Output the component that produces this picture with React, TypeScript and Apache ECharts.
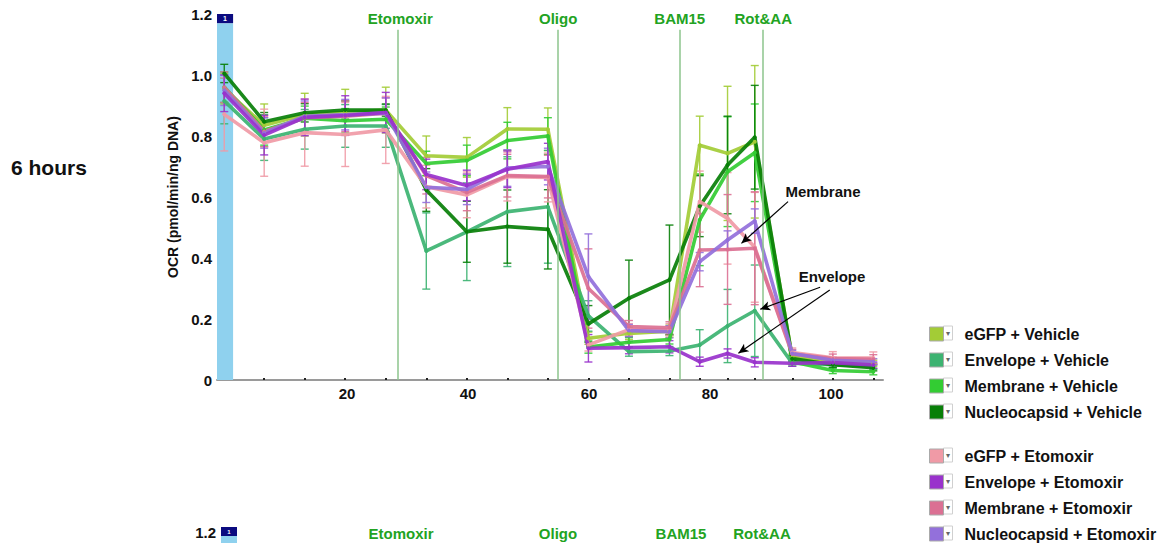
import React, { useEffect, useRef } from 'react';
import * as echarts from 'echarts';

// Measurement times (minutes)
const times = [-0.3, 6.3, 13.0, 19.7, 26.4, 33.1, 39.8, 46.5, 53.2, 59.9, 66.6, 73.3, 78.3, 82.9, 87.4, 93.6, 100.3, 107.0];
const xTickLabels = [20, 40, 60, 80, 100];

const seriesNames = [
  'eGFP + Vehicle', 'Envelope + Vehicle', 'Membrane + Vehicle', 'Nucleocapsid + Vehicle',
  'eGFP + Etomoxir', 'Envelope + Etomoxir', 'Membrane + Etomoxir', 'Nucleocapsid + Etomoxir',
];
const seriesColors = ['#a3cc36', '#3cb371', '#33cc33', '#087f08', '#f09aa6', '#9932cc', '#db7093', '#9370db'];

const eGFPVehicle = [0.955, 0.835, 0.870, 0.878, 0.885, 0.735, 0.730, 0.823, 0.822, 0.137, 0.153, 0.160, 0.770, 0.743, 0.781, 0.075, 0.060, 0.055];
const eGFPVehicleErr = [0.05, 0.07, 0.07, 0.075, 0.075, 0.065, 0.065, 0.07, 0.07, 0.02, 0.02, 0.02, 0.095, 0.22, 0.25, 0.01, 0.01, 0.01];
const envelopeVehicle = [0.915, 0.790, 0.822, 0.833, 0.833, 0.423, 0.486, 0.552, 0.568, 0.210, 0.093, 0.095, 0.115, 0.177, 0.227, 0.055, 0.050, 0.045];
const envelopeVehicleErr = [0.075, 0.07, 0.065, 0.07, 0.07, 0.125, 0.16, 0.18, 0.185, 0.05, 0.015, 0.015, 0.05, 0.12, 0.15, 0.01, 0.01, 0.01];
const membraneVehicle = [0.960, 0.820, 0.858, 0.850, 0.855, 0.710, 0.720, 0.785, 0.800, 0.108, 0.124, 0.133, 0.525, 0.683, 0.745, 0.060, 0.031, 0.027];
const membraneVehicleErr = [0.05, 0.05, 0.04, 0.04, 0.04, 0.04, 0.05, 0.06, 0.06, 0.02, 0.015, 0.015, 0.15, 0.18, 0.16, 0.01, 0.01, 0.01];
const nucleoVehicle = [1.005, 0.847, 0.876, 0.885, 0.885, 0.623, 0.486, 0.503, 0.494, 0.184, 0.268, 0.328, 0.570, 0.705, 0.796, 0.070, 0.050, 0.040];
const nucleoVehicleErr = [0.03, 0.03, 0.03, 0.03, 0.02, 0.07, 0.10, 0.12, 0.13, 0.06, 0.125, 0.18, 0.10, 0.16, 0.17, 0.01, 0.01, 0.01];
const eGFPEtomoxir = [0.871, 0.778, 0.811, 0.805, 0.820, 0.634, 0.607, 0.667, 0.664, 0.115, 0.165, 0.165, 0.585, 0.530, 0.435, 0.090, 0.073, 0.072];
const eGFPEtomoxirErr = [0.12, 0.11, 0.11, 0.105, 0.11, 0.07, 0.075, 0.08, 0.08, 0.02, 0.02, 0.02, 0.10, 0.15, 0.18, 0.015, 0.02, 0.02];
const envelopeEtomoxir = [0.940, 0.803, 0.861, 0.867, 0.877, 0.674, 0.638, 0.691, 0.716, 0.104, 0.106, 0.109, 0.060, 0.087, 0.058, 0.055, 0.057, 0.049];
const envelopeEtomoxirErr = [0.06, 0.065, 0.06, 0.065, 0.066, 0.05, 0.05, 0.06, 0.06, 0.045, 0.02, 0.02, 0.015, 0.015, 0.015, 0.01, 0.01, 0.01];
const membraneEtomoxir = [0.960, 0.815, 0.860, 0.865, 0.875, 0.670, 0.615, 0.670, 0.667, 0.300, 0.175, 0.171, 0.426, 0.428, 0.432, 0.085, 0.070, 0.068];
const membraneEtomoxirErr = [0.05, 0.05, 0.05, 0.05, 0.05, 0.06, 0.06, 0.07, 0.07, 0.13, 0.02, 0.02, 0.12, 0.18, 0.185, 0.015, 0.015, 0.015];
const nucleoEtomoxir = [0.950, 0.810, 0.865, 0.870, 0.875, 0.632, 0.625, 0.695, 0.700, 0.339, 0.162, 0.158, 0.388, 0.459, 0.521, 0.087, 0.065, 0.060];
const nucleoEtomoxirErr = [0.05, 0.05, 0.05, 0.05, 0.05, 0.05, 0.05, 0.06, 0.06, 0.14, 0.02, 0.02, 0.03, 0.03, 0.04, 0.01, 0.01, 0.01];

const seriesValues = [eGFPVehicle, envelopeVehicle, membraneVehicle, nucleoVehicle, eGFPEtomoxir, envelopeEtomoxir, membraneEtomoxir, nucleoEtomoxir];
const seriesErrors = [eGFPVehicleErr, envelopeVehicleErr, membraneVehicleErr, nucleoVehicleErr, eGFPEtomoxirErr, envelopeEtomoxirErr, membraneEtomoxirErr, nucleoEtomoxirErr];
// drawing order (later on top)
const drawOrder = [0, 1, 2, 3, 4, 6, 7, 5];

const injectionNames = ['Etomoxir', 'Oligo', 'BAM15', 'Rot&AA'];
const injectionTimes = [28.3, 54.9, 75.0, 88.8];

const FONT = '"Liberation Sans", Arial, sans-serif';
const GREEN = '#22a322';

export default function App() {
  const ref = useRef<HTMLDivElement>(null);
  useEffect(() => {
    if (!ref.current) return;
    const chart = echarts.init(ref.current, undefined, { renderer: 'svg' });

    const errSeries = drawOrder.map((i) => ({
      type: 'custom',
      name: seriesNames[i] + ' SD',
      silent: true,
      z: 1,
      encode: { x: 0, y: [1, 2] },
      data: times.map((t, k) => [t, seriesValues[i][k] - seriesErrors[i][k], seriesValues[i][k] + seriesErrors[i][k]]),
      renderItem: (params: any, api: any) => {
        const x = api.value(0);
        const p1 = api.coord([x, api.value(1)]);
        const p2 = api.coord([x, api.value(2)]);
        const w = 4;
        const style = { stroke: seriesColors[i], lineWidth: 1.4, opacity: 0.9 };
        return {
          type: 'group',
          children: [
            { type: 'line', shape: { x1: p1[0], y1: p1[1], x2: p2[0], y2: p2[1] }, style },
            { type: 'line', shape: { x1: p1[0] - w, y1: p1[1], x2: p1[0] + w, y2: p1[1] }, style },
            { type: 'line', shape: { x1: p2[0] - w, y1: p2[1], x2: p2[0] + w, y2: p2[1] }, style },
          ],
        };
      },
    }));

    const lineSeries: any[] = drawOrder.map((i) => ({
      type: 'line',
      name: seriesNames[i],
      z: 3,
      data: times.map((t, k) => [t, seriesValues[i][k]]),
      symbol: 'circle',
      symbolSize: 4,
      showSymbol: true,
      itemStyle: { color: seriesColors[i] },
      lineStyle: { width: 3.6, color: seriesColors[i], opacity: 0.92 },
      emphasis: { disabled: true },
    }));

    lineSeries[0].markArea = {
      silent: true,
      data: [
        [{ xAxis: -1.5, yAxis: 0, itemStyle: { color: '#8fd1ee' } }, { xAxis: 1.16, yAxis: 1.17 }],
        [
          {
            xAxis: -1.5, yAxis: 1.17, itemStyle: { color: '#0b0b80' },
            label: { show: true, position: 'inside', formatter: '1', color: '#fff', fontSize: 7, fontFamily: FONT, fontWeight: 'bold' },
          },
          { xAxis: 1.16, yAxis: 1.203 },
        ],
      ],
    };
    lineSeries[0].markLine = {
      silent: true,
      symbol: ['none', 'none'],
      lineStyle: { color: '#8cc48c', width: 1.5, type: 'solid' },
      label: {
        show: true, position: 'end', distance: 4, color: GREEN, fontSize: 15, fontWeight: 'bold', fontFamily: FONT,
        formatter: (p: any) => p.name,
      },
      data: injectionTimes.map((t, k) => [
        { coord: [t, 0], name: injectionNames[k], label: k === 0 ? { offset: [3, 0] } : undefined },
        { coord: [t, 1.148] },
      ]),
    };
    lineSeries[1].markLine = {
      silent: true,
      symbol: ['none', 'arrow'],
      symbolSize: [7, 10],
      lineStyle: { color: '#000', width: 1.2, type: 'solid' },
      label: { show: false },
      data: [
        [{ coord: [92.9, 0.585] }, { coord: [85.2, 0.448] }],
        [{ coord: [98.2, 0.304] }, { coord: [88.3, 0.232] }],
        [{ coord: [99.8, 0.295] }, { coord: [84.7, 0.088] }],
      ],
    };

    const legendRowsA = [333, 359, 385, 411];
    const legendRowsB = [455, 481, 507, 533];
    const arrowBoxes: any[] = [...legendRowsA, ...legendRowsB].flatMap((y) => [
      { type: 'rect', shape: { x: 943.5, y: y - 7, width: 9, height: 14 }, style: { fill: '#fff', stroke: '#d0d0d0', lineWidth: 1 } },
      { type: 'text', x: 948, y: y, style: { text: '▾', fill: '#666', font: '8px "DejaVu Sans"', textAlign: 'center', textVerticalAlign: 'middle' } },
    ]);

    const legendCommon = {
      orient: 'vertical',
      left: 929,
      padding: 0,
      height: 110,
      itemWidth: 14,
      itemHeight: 14,
      itemGap: 10,
      icon: 'rect',
      selectedMode: false,
      itemStyle: { borderColor: '#aaa', borderWidth: 1 },
      textStyle: { fontFamily: FONT, fontSize: 16, lineHeight: 14, fontWeight: 'bold', color: '#111', padding: [0, 0, 0, 16] },
    };

    chart.setOption({
      animation: false,
      backgroundColor: '#fff',
      grid: { left: 217, top: 14, width: 666, height: 366 },
      legend: [
        { ...legendCommon, top: 326, data: seriesNames.slice(0, 4) },
        { ...legendCommon, top: 448, data: seriesNames.slice(4) },
      ],
      xAxis: {
        type: 'value',
        min: -1.5,
        max: 108.6,
        splitLine: { show: false },
        axisLine: { show: true, lineStyle: { color: '#9a9a9a', width: 2 } },
        axisTick: { show: true, inside: true, length: 2, customValues: times, lineStyle: { color: '#222', width: 2 } },
        axisLabel: { customValues: xTickLabels, fontFamily: FONT, fontSize: 15, fontWeight: 'bold', color: '#111', margin: 6 },
      },
      yAxis: {
        type: 'value',
        min: 0,
        max: 1.2,
        interval: 0.2,
        name: 'OCR (pmol/min/ng DNA)',
        nameLocation: 'middle',
        nameGap: 36,
        nameTextStyle: { fontFamily: FONT, fontSize: 14, fontWeight: 'bold', color: '#111' },
        splitLine: { show: false },
        axisLine: { show: false },
        axisTick: { show: false },
        axisLabel: {
          fontFamily: FONT, fontSize: 15, fontWeight: 'bold', color: '#111', margin: 5,
          formatter: (v: number) => (v === 0 ? '0' : v.toFixed(1)),
        },
      },
      graphic: [
        { type: 'text', x: 11, y: 167, style: { text: '6 hours', font: `bold 21px ${FONT}`, fill: '#111', textVerticalAlign: 'middle' } },
        { type: 'text', x: 823, y: 191, style: { text: 'Membrane', font: `bold 15px ${FONT}`, fill: '#111', textAlign: 'center', textVerticalAlign: 'middle' } },
        { type: 'text', x: 832, y: 276, style: { text: 'Envelope', font: `bold 15px ${FONT}`, fill: '#111', textAlign: 'center', textVerticalAlign: 'middle' } },
        ...arrowBoxes,
        // next panel (cut off)
        { type: 'text', x: 216, y: 532, style: { text: '1.2', font: `bold 15px ${FONT}`, fill: '#111', textAlign: 'right', textVerticalAlign: 'middle' } },
        { type: 'rect', shape: { x: 221, y: 535, width: 16, height: 8 }, style: { fill: '#8fd1ee' } },
        { type: 'rect', shape: { x: 221, y: 527, width: 16, height: 9 }, style: { fill: '#0b0b80' } },
        { type: 'text', x: 229, y: 531.5, style: { text: '1', font: `bold 6px ${FONT}`, fill: '#fff', textAlign: 'center', textVerticalAlign: 'middle' } },
        ...injectionNames.map((nm, k) => ({
          type: 'text', x: [401, 558, 681, 762][k], y: 533,
          style: { text: nm, font: `bold 15px "Liberation Sans Narrow", ${FONT}`, fill: GREEN, textAlign: 'center', textVerticalAlign: 'middle' },
        })),
      ],
      series: [...errSeries, ...lineSeries],
    });
    return () => chart.dispose();
  }, []);
  return <div ref={ref} style={{ position: 'absolute', left: 0, top: 0, width: 1167, height: 543 }} />;
}
